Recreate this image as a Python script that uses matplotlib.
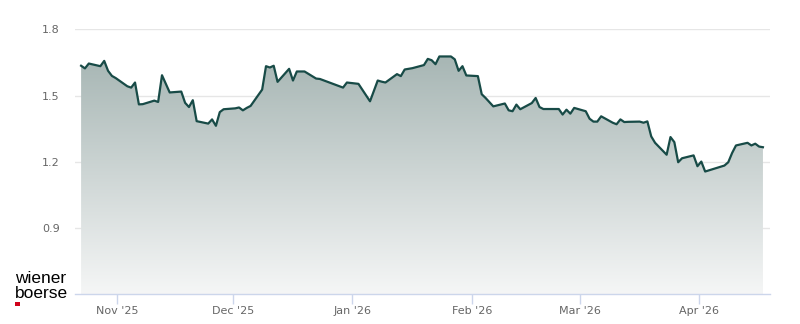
import numpy as np
import pandas as pd
import matplotlib
matplotlib.use("Agg")
import matplotlib.pyplot as plt
import matplotlib.dates as mdates
from matplotlib.colors import LinearSegmentedColormap

# trading days (Vienna exchange holidays removed)
holidays = ["2025-12-24", "2025-12-25", "2025-12-26", "2025-12-31",
            "2026-01-01", "2026-04-03", "2026-04-06"]
dates = pd.bdate_range("2025-10-22", "2026-04-17", freq="C", holidays=holidays)

prices = [
    # Oct
    1.635, 1.623, 1.645, 1.633, 1.657, 1.612, 1.589, 1.579,
    # Nov
    1.542, 1.536, 1.559, 1.460, 1.461,
    1.477, 1.471, 1.592, 1.553, 1.514,
    1.518, 1.467, 1.448, 1.479, 1.384,
    1.373, 1.392, 1.363, 1.425, 1.438,
    # Dec
    1.442, 1.446, 1.433, 1.444, 1.453,
    1.527, 1.633, 1.627, 1.635, 1.562,
    1.621, 1.568, 1.609, 1.609, 1.609,
    1.577, 1.575,
    1.536, 1.559,
    # Jan
    1.553,
    1.474, 1.521, 1.568, 1.563, 1.559,
    1.597, 1.588, 1.618, 1.621, 1.624,
    1.638, 1.666, 1.660, 1.642, 1.677,
    1.677, 1.664, 1.612, 1.633, 1.591,
    # Feb
    1.588, 1.506, 1.489, 1.470, 1.451,
    1.464, 1.433, 1.429, 1.459, 1.438,
    1.466, 1.489, 1.448, 1.439, 1.439,
    1.439, 1.414, 1.436, 1.418, 1.444,
    # Mar
    1.429, 1.395, 1.382, 1.382, 1.406,
    1.377, 1.370, 1.392, 1.380, 1.381,
    1.382, 1.377, 1.383, 1.315, 1.286,
    1.232, 1.312, 1.289, 1.198, 1.216,
    1.229, 1.180,
    # Apr
    1.201, 1.156,
    1.183, 1.198, 1.240, 1.274,
    1.286, 1.274, 1.282, 1.269, 1.266,
]

y_ticks = [0.9, 1.2, 1.5, 1.8]
y_min, y_max = 0.6, 1.8

LINE = "#184b47"
GRID = "#e6e6e6"
AXIS = "#ccd6eb"
LABEL = "#666666"


def main():
    x = dates + pd.Timedelta(hours=14)  # closing prices
    xn = mdates.date2num(x)

    fig = plt.figure(figsize=(8, 3.24), dpi=100)
    ax = fig.add_axes([75 / 800, 29.7 / 324, 695 / 800, 265 / 324])

    ax.set_xlim(mdates.date2num(pd.Timestamp("2025-10-21")),
                mdates.date2num(pd.Timestamp("2026-04-19 10:00")))
    ax.set_ylim(y_min, y_max)

    # gradient area
    poly = ax.fill_between(xn, prices, y_min, color="none", lw=0)
    top = max(prices)
    cmap = LinearSegmentedColormap.from_list("g", ["#f5f6f6", "#a7b6b4"])
    grad = np.linspace(0, 1, 256).reshape(-1, 1)
    img = ax.imshow(grad, cmap=cmap, origin="lower", aspect="auto",
                    extent=[xn[0], xn[-1], y_min, top], zorder=1,
                    interpolation="bilinear")
    img.set_clip_path(poly.get_paths()[0], transform=ax.transData)

    ax.plot(xn, prices, color=LINE, lw=1.6, zorder=3,
            solid_joinstyle="round")

    # grid and axes
    for t in y_ticks:
        ax.axhline(t, color=GRID, lw=1, zorder=0)
    for s in ["top", "right", "left"]:
        ax.spines[s].set_visible(False)
    ax.spines["bottom"].set_color(AXIS)
    ax.spines["bottom"].set_linewidth(1)
    ax.spines["bottom"].set_zorder(4)

    ax.set_yticks(y_ticks)
    ax.set_yticklabels([f"{t:.1f}" for t in y_ticks])
    ax.tick_params(axis="y", length=0, pad=11, labelsize=8, labelcolor=LABEL)

    ax.xaxis.set_major_locator(mdates.MonthLocator())
    ax.xaxis.set_major_formatter(mdates.DateFormatter("%b '%y"))
    ax.tick_params(axis="x", length=7.2, width=1, color=AXIS, pad=1.5,
                   labelsize=8, labelcolor=LABEL)

    # logo
    fig.text(15 / 800, 1 - 283 / 324, "wiener", fontsize=12.5,
             family="Liberation Sans", color="black", va="baseline")
    fig.text(15 / 800, 1 - 298 / 324, "boerse", fontsize=12.5,
             family="Liberation Sans", color="black", va="baseline")
    fig.patches.append(plt.Rectangle((15 / 800, 1 - 306 / 324), 5 / 800, 4 / 324,
                                     transform=fig.transFigure,
                                     color="#d0021b", lw=0))

    fig.savefig("out.png", dpi=100)


if __name__ == "__main__":
    main()
